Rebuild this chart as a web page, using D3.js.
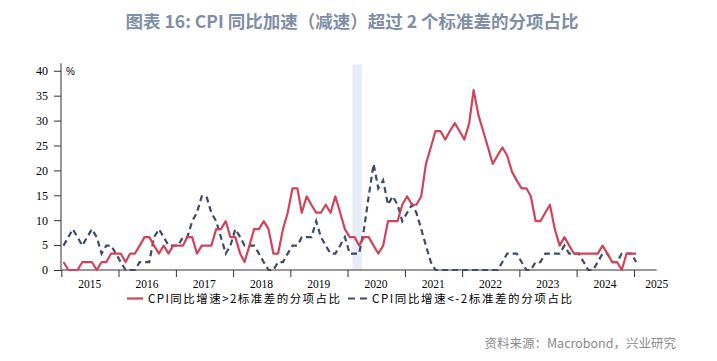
<!DOCTYPE html>
<html>
<head>
<meta charset="utf-8">
<script src="https://cdn.jsdelivr.net/npm/d3@7"></script>
<style>
  html, body { margin: 0; padding: 0; background: #ffffff; }
  svg { display: block; }
</style>
</head>
<body>
<svg id="chart" width="717" height="361"></svg>
<script>
// ---- data (monthly, Jan 2015 .. Jan 2025), % of CPI items ----
const startYear = 2015, startMonth = 0;
const redValues = [
  1.6,0,0,0,1.6,1.6,1.6,0,1.6,1.6,3.3,3.3,
  3.3,1.6,3.3,3.3,4.9,6.6,6.6,4.9,3.3,4.9,3.3,4.9,
  4.9,4.9,6.6,6.6,3.3,4.9,4.9,4.9,8.2,8.2,9.8,6.6,
  6.6,3.3,1.6,4.9,8.2,8.2,9.8,8.2,3.3,3.3,8.2,11.5,
  16.4,16.4,11.5,14.8,13.1,11.5,11.5,13.1,11.5,14.8,11.5,8.2,
  6.6,6.6,4.9,6.6,6.6,4.9,3.3,4.9,9.8,9.8,9.8,13.1,
  14.8,13.1,13.1,14.8,21.3,24.6,27.9,27.9,26.2,27.9,29.5,27.9,
  26.2,29.5,36.1,31.1,27.9,24.6,21.3,23.0,24.6,23.0,19.7,18.0,
  16.4,16.4,14.8,9.8,9.8,11.5,13.1,8.2,4.9,6.6,4.9,3.3,
  3.3,3.3,3.3,3.3,3.3,4.9,3.3,1.6,1.6,0,3.3,3.3,
  3.3
];
const blueValues = [
  4.9,6.6,8.2,6.6,4.9,6.6,8.2,6.6,3.3,4.9,4.9,3.3,
  1.6,0,0,0,1.6,1.6,1.6,6.6,8.2,6.6,4.9,4.9,
  4.9,6.6,6.6,9.8,11.5,14.8,14.8,11.5,9.8,6.6,3.3,4.9,
  8.2,6.6,4.9,4.9,4.9,3.3,1.6,0,0,1.6,1.6,3.3,
  4.9,4.9,6.6,6.6,6.6,9.8,6.6,4.9,3.3,3.3,4.9,6.6,
  3.3,3.3,3.3,8.2,14.8,21.3,16.4,18.0,13.1,14.8,13.1,9.8,
  11.5,13.1,11.5,8.2,4.9,1.6,0,0,0,0,0,0,
  0,0,0,0,0,0,0,0,1.6,3.3,3.3,3.3,
  1.6,0,0,1.6,1.6,3.3,3.3,3.3,3.3,4.9,3.3,3.3,
  3.3,1.6,0,0,1.6,3.3,3.3,1.6,1.6,3.3,3.3,3.3,
  1.6
];
const yTicks = [0, 5, 10, 15, 20, 25, 30, 35, 40];
const yearTicks = [2015, 2016, 2017, 2018, 2019, 2020, 2021, 2022, 2023, 2024, 2025];
const bandStart = new Date(2020, 1, 1), bandEnd = new Date(2020, 3, 1);
const legendLabels = ["CPI同比增速>2标准差的分项占比", "CPI同比增速<-2标准差的分项占比"];
const titleText = "图表 16: CPI 同比加速（减速）超过 2 个标准差的分项占比";
const sourceText = "资料来源：Macrobond，兴业研究";

const red = "#d0435a", blue = "#3d4a68";

const svg = d3.select("#chart");
const x = d3.scaleTime()
  .domain([new Date(2015, 0, 1), new Date(2025, 4, 26)])
  .range([61.3, 656.7]);
const y = d3.scaleLinear().domain([0, 41.5]).range([270, 63.3]);

const dates = redValues.map((_, i) => new Date(startYear, startMonth + i, 15));

// title
svg.append("text")
  .attr("x", 352).attr("y", 28)
  .attr("text-anchor", "middle")
  .attr("font-family", "'Noto Sans CJK SC', 'Noto Sans', sans-serif")
  .attr("font-weight", "bold")
  .attr("font-size", 17.5)
  .attr("fill", "#7f8ea6")
  .text(titleText);

// shaded band
svg.append("rect")
  .attr("x", x(bandStart)).attr("y", y(41.3))
  .attr("width", x(bandEnd) - x(bandStart))
  .attr("height", y(0) - y(41.3))
  .attr("fill", "#e6edf6");

// y axis
const yAxis = d3.axisLeft(y).tickValues(yTicks).tickSize(7).tickPadding(6);
const gy = svg.append("g").attr("transform", "translate(61,0)").call(yAxis);
gy.select(".domain").attr("stroke", "#333").attr("d", `M0,${y(41.5)}V${y(0)}`);
gy.selectAll(".tick line").attr("stroke", "#333");
gy.selectAll(".tick text")
  .attr("font-family", "'Liberation Serif', 'Times New Roman', serif")
  .attr("font-size", 12).attr("fill", "#000");

svg.append("text").attr("x", 66).attr("y", 75)
  .attr("font-family", "'Liberation Sans', Arial, sans-serif")
  .attr("font-size", 10).attr("fill", "#000").text("%");

// x axis
const xAxis = d3.axisBottom(x)
  .tickValues(yearTicks.map(yr => new Date(yr, 0, 1)))
  .tickSize(7).tickFormat("");
const gx = svg.append("g").attr("transform", `translate(0,${y(0)})`).call(xAxis);
gx.select(".domain").attr("stroke", "#333").attr("d", `M${x.range()[0]},0H${x.range()[1]}`);
gx.selectAll(".tick line").attr("stroke", "#333");

svg.append("g").selectAll("text").data(yearTicks).join("text")
  .attr("x", yr => Math.min(x(new Date(yr, 6, 1)), x.range()[1]))
  .attr("y", 287.5)
  .attr("text-anchor", "middle")
  .attr("font-family", "'Liberation Serif', 'Times New Roman', serif")
  .attr("font-size", 11.5).attr("fill", "#000")
  .text(d => d);

// lines
const line = d3.line().x((d, i) => x(dates[i])).y(d => y(d));
svg.append("path").datum(blueValues)
  .attr("d", line).attr("fill", "none")
  .attr("stroke", blue).attr("stroke-width", 2.2)
  .attr("stroke-dasharray", "6,4");
svg.append("path").datum(redValues)
  .attr("d", line).attr("fill", "none")
  .attr("stroke", red).attr("stroke-width", 2.2)
  .attr("stroke-linejoin", "round");

// legend
const lg = svg.append("g");
lg.append("line").attr("x1", 127).attr("x2", 143).attr("y1", 298.5).attr("y2", 298.5)
  .attr("stroke", red).attr("stroke-width", 2.2);
lg.append("text").attr("x", 148).attr("y", 303)
  .attr("font-family", "'Noto Sans CJK SC', sans-serif")
  .attr("font-size", 11.5).attr("fill", "#000")
  .attr("textLength", 192).attr("lengthAdjust", "spacing")
  .text(legendLabels[0]);
lg.append("line").attr("x1", 348).attr("x2", 368).attr("y1", 298.5).attr("y2", 298.5)
  .attr("stroke", blue).attr("stroke-width", 2.2).attr("stroke-dasharray", "7,5");
lg.append("text").attr("x", 372).attr("y", 303)
  .attr("font-family", "'Noto Sans CJK SC', sans-serif")
  .attr("font-size", 11.5).attr("fill", "#000")
  .attr("textLength", 200).attr("lengthAdjust", "spacing")
  .text(legendLabels[1]);

// source
svg.append("text").attr("x", 676).attr("y", 348)
  .attr("text-anchor", "end")
  .attr("font-family", "'Noto Sans CJK SC', sans-serif")
  .attr("font-size", 12.5).attr("fill", "#8a8a8a")
  .text(sourceText);
</script>
</body>
</html>
